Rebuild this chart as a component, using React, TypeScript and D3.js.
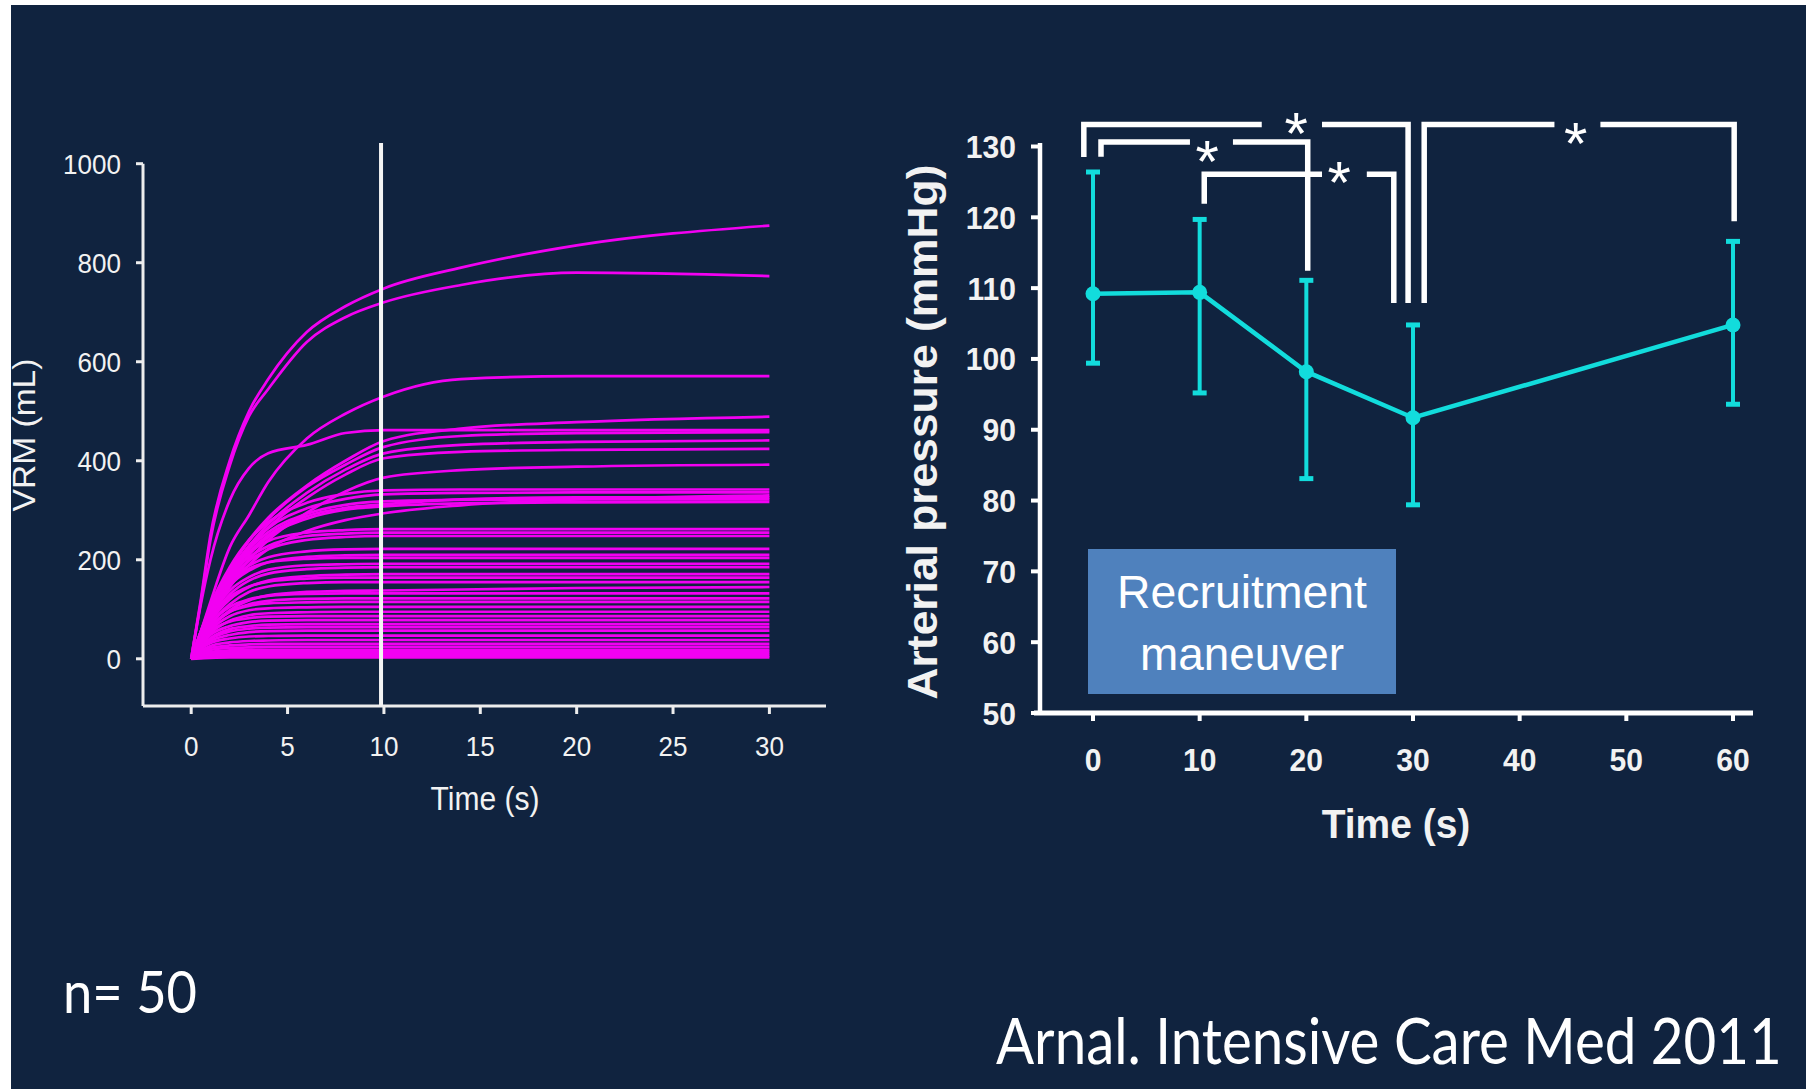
import React, { useLayoutEffect, useRef, useState } from "react";
import * as d3 from "d3";

const W = 1806;
const H = 1089;
const BG = "#10233F";
const ARIAL = "'Liberation Sans', Arial, sans-serif";
const CAL = "Lato, 'Open Sans', sans-serif";

// ---------- Left panel: VRM curves ----------
const vrmTimes = [0, 0.5, 1, 2, 3, 4, 6, 8, 10, 14, 20, 30];
const vrmCurves: number[][] = [
  [0, 120, 250, 400, 500, 565, 660, 712, 748, 790, 835, 875],
  [0, 115, 240, 390, 490, 545, 640, 690, 720, 755, 780, 773],
  [0, 55, 115, 225, 290, 357, 445, 495, 530, 565, 571, 571],
  [0, 110, 200, 320, 385, 415, 432, 456, 462, 462, 462, 462],
  [0, 50, 100, 180, 240, 285, 350, 400, 440, 465, 478, 489],
  [0, 52, 102, 182, 238, 282, 347, 392, 428, 450, 456, 458],
  [0, 48, 95, 172, 228, 272, 335, 382, 415, 432, 438, 441],
  [0, 46, 92, 168, 222, 265, 325, 372, 405, 418, 422, 424],
  [0, 40, 80, 150, 200, 240, 295, 338, 366, 381, 388, 392],
  [0, 55, 108, 185, 240, 276, 315, 333, 340, 342, 342, 342],
  [0, 50, 100, 175, 228, 264, 304, 323, 332, 335, 336, 336],
  [0, 40, 80, 145, 190, 222, 258, 280, 294, 310, 322, 330],
  [0, 52, 100, 172, 222, 256, 293, 311, 318, 321, 322, 322],
  [0, 45, 90, 160, 210, 246, 283, 301, 308, 314, 316, 317],
  [0, 48, 95, 168, 215, 250, 288, 305, 312, 322, 326, 326],
  [0, 55, 105, 175, 215, 238, 255, 260, 262, 262, 262, 262],
  [0, 50, 96, 165, 205, 228, 248, 253, 255, 255, 255, 255],
  [0, 48, 92, 158, 198, 221, 240, 246, 248, 248, 248, 248],
  [0, 50, 95, 155, 188, 205, 217, 221, 222, 222, 222, 222],
  [0, 48, 90, 148, 178, 195, 206, 209, 210, 210, 210, 210],
  [0, 55, 100, 155, 182, 195, 202, 204, 204, 204, 204, 204],
  [0, 45, 85, 138, 165, 180, 189, 191, 192, 192, 192, 192],
  [0, 42, 80, 130, 158, 172, 181, 184, 185, 185, 185, 185],
  [0, 40, 75, 120, 145, 158, 167, 170, 171, 171, 171, 171],
  [0, 45, 80, 125, 146, 156, 162, 164, 164, 164, 164, 164],
  [0, 40, 70, 110, 135, 146, 153, 155, 155, 155, 155, 155],
  [0, 35, 62, 98, 118, 128, 135, 137, 138, 140, 143, 145],
  [0, 40, 70, 105, 120, 127, 131, 132, 132, 132, 132, 132],
  [0, 35, 62, 95, 110, 117, 121, 122, 122, 122, 122, 122],
  [0, 38, 65, 95, 107, 112, 114, 115, 115, 115, 115, 115],
  [0, 34, 58, 86, 98, 102, 104, 105, 105, 105, 105, 105],
  [0, 30, 52, 77, 88, 92, 94, 95, 95, 95, 95, 95],
  [0, 32, 55, 75, 82, 85, 86, 86, 86, 86, 86, 86],
  [0, 28, 48, 66, 74, 77, 78, 78, 78, 78, 78, 78],
  [0, 25, 42, 60, 66, 69, 70, 70, 70, 70, 70, 70],
  [0, 24, 40, 55, 61, 63, 64, 64, 64, 64, 64, 64],
  [0, 22, 36, 48, 54, 56, 57, 57, 57, 57, 57, 57],
  [0, 20, 32, 41, 45, 46, 47, 47, 47, 47, 47, 47],
  [0, 16, 26, 33, 36, 37, 38, 38, 38, 38, 38, 38],
  [0, 14, 22, 27, 29, 30, 30, 30, 30, 30, 30, 30],
  [0, 12, 18, 22, 23, 24, 24, 24, 24, 24, 24, 24],
  [0, 9, 14, 17, 18, 18, 18, 18, 18, 18, 18, 18],
  [0, 7, 11, 13, 14, 14, 14, 14, 14, 14, 14, 14],
  [0, 5, 8, 9, 10, 10, 10, 10, 10, 10, 10, 10],
  [0, 3, 5, 6, 6, 6, 6, 6, 6, 6, 6, 6],
  [0, 1, 2, 3, 3, 3, 3, 3, 3, 3, 3, 3],
];
const vrmYTicks = [0, 200, 400, 600, 800, 1000];
const vrmXTicks = [0, 5, 10, 15, 20, 25, 30];
const rmEndTime = 9.85;

// ---------- Right panel: arterial pressure ----------
const apTimes = [0, 10, 20, 30, 60];
const apMean = [109.2, 109.4, 98.2, 91.7, 104.8];
const apUpper = [126.4, 119.7, 111.1, 104.8, 116.6];
const apLower = [99.4, 95.2, 83.1, 79.4, 93.6];
const apYTicks = [50, 60, 70, 80, 90, 100, 110, 120, 130];
const apXTicks = [0, 10, 20, 30, 40, 50, 60];
const brackets = [
  { x1: -0.86, x2: 29.54, y: 133.1, y1End: 128.5, y2End: 107.9, gapA: 15.82, gapB: 21.47, starX: 19.05, starY: 133.6 },
  { x1: 0.75, x2: 20.13, y: 130.65, y1End: 128.55, y2End: 112.44, gapA: 9.09, gapB: 13.12, starX: 10.71, starY: 129.6 },
  { x1: 10.43, x2: 28.2, y: 126.09, y1End: 121.9, y2End: 107.9, gapA: 21.47, gapB: 25.67, starX: 23.08, starY: 126.65 },
  { x1: 31.05, x2: 60.11, y: 133.09, y1End: 107.9, y2End: 119.45, gapA: 43.26, gapB: 47.57, starX: 45.26, starY: 132.19 },
];

type TxtProps = {
  x: number; y: number; size: number; weight?: number; anchor?: string;
  sx?: number; family?: string; fill?: string; children: React.ReactNode;
};
const Txt = ({ x, y, size, weight = 400, anchor = "start", sx = 1, family = ARIAL, fill = "#F2F2F2", children }: TxtProps) => (
  <text
    transform={`translate(${x},${y}) scale(${sx},1)`}
    fontSize={size}
    fontWeight={weight}
    textAnchor={anchor}
    fontFamily={family}
    fill={fill}
  >
    {children}
  </text>
);

// Text squeezed/stretched to a measured width along its own axis (via scale)
type FitProps = {
  x: number; y: number; size: number; width: number; weight?: number; anchor?: string;
  rotate?: number; family?: string; fill?: string; children: string;
};
const FitText = ({ x, y, size, width, weight = 400, anchor = "start", rotate = 0, family = ARIAL, fill = "#F2F2F2", children }: FitProps) => {
  const ref = useRef<SVGTextElement>(null);
  const [k, setK] = useState(1);
  useLayoutEffect(() => {
    if (ref.current) {
      const natural = ref.current.getComputedTextLength();
      if (natural > 0) setK(width / natural);
    }
  }, [width, children, size, family, weight]);
  return (
    <text
      ref={ref}
      transform={`translate(${x},${y}) rotate(${rotate}) scale(${k},1)`}
      fontSize={size}
      fontWeight={weight}
      textAnchor={anchor}
      fontFamily={family}
      fill={fill}
    >
      {children}
    </text>
  );
};

export default function App() {
  const xL = d3.scaleLinear().domain([0, 30]).range([191.2, 769.4]);
  const yL = d3.scaleLinear().domain([0, 1000]).range([658.8, 163.7]);
  const xR = d3.scaleLinear().domain([0, 60]).range([1093, 1733]);
  const yR = d3.scaleLinear().domain([50, 130]).range([713, 146.5]);

  const vrmLine = d3
    .line<[number, number]>()
    .x((d) => xL(d[0]))
    .y((d) => yL(d[1]))
    .curve(d3.curveMonotoneX);

  const apLine = d3
    .line<number>()
    .x((_, i) => xR(apTimes[i]))
    .y((d) => yR(d));

  const leftAxisY = 706;
  const leftAxisX = 143;
  const rightAxisY = 713;
  const rightAxisX = 1040;
  const axisCol = "#EDEDED";
  const cyan = "#12DCDC";

  return (
    <svg
      width={W}
      height={H}
      viewBox={`0 0 ${W} ${H}`}
      style={{ position: "absolute", left: 0, top: 0, display: "block" }}
    >
      <rect x={0} y={0} width={W} height={H} fill="#FFFFFF" />
      <rect x={11} y={5} width={W - 11} height={H - 5} fill={BG} />

      {/* ---------- LEFT PANEL ---------- */}
      <g>
        {vrmCurves.map((c, k) => (
          <path
            key={k}
            d={vrmLine(vrmTimes.map((t, i) => [t, c[i]] as [number, number])) || ""}
            fill="none"
            stroke="#F200F2"
            strokeWidth={2.7}
          />
        ))}
        {/* axes */}
        <line x1={leftAxisX} x2={leftAxisX} y1={yL(1000)} y2={leftAxisY} stroke={axisCol} strokeWidth={3} />
        <line x1={leftAxisX} x2={826} y1={leftAxisY} y2={leftAxisY} stroke={axisCol} strokeWidth={3} />
        {vrmYTicks.map((v) => (
          <g key={v}>
            <line x1={leftAxisX - 7} x2={leftAxisX} y1={yL(v)} y2={yL(v)} stroke={axisCol} strokeWidth={3} />
            <Txt x={121} y={yL(v) + 10} size={28} anchor="end" sx={0.93}>{v}</Txt>
          </g>
        ))}
        {vrmXTicks.map((v) => (
          <g key={v}>
            <line x1={xL(v)} x2={xL(v)} y1={leftAxisY} y2={leftAxisY + 8} stroke={axisCol} strokeWidth={3} />
            <Txt x={xL(v)} y={756} size={28} anchor="middle" sx={0.93}>{v}</Txt>
          </g>
        ))}
        {/* maneuver end line */}
        <line x1={xL(rmEndTime)} x2={xL(rmEndTime)} y1={143} y2={leftAxisY} stroke="#F4F4F4" strokeWidth={4} />
        <Txt x={485} y={810} size={33} anchor="middle" sx={0.91}>Time (s)</Txt>
        <FitText x={35} y={435} size={32} width={153} anchor="middle" rotate={-90}>
          VRM (mL)
        </FitText>
      </g>

      {/* ---------- RIGHT PANEL ---------- */}
      <g>
        {/* recruitment box */}
        <rect x={1088} y={549} width={308} height={145} fill="#4F81BD" />
        <FitText x={1242} y={608} size={46} width={250} anchor="middle" fill="#FFFFFF">Recruitment</FitText>
        <FitText x={1242} y={670} size={46} width={204} anchor="middle" fill="#FFFFFF">maneuver</FitText>

        {/* axes */}
        <line x1={rightAxisX} x2={rightAxisX} y1={143} y2={rightAxisY} stroke="#FFFFFF" strokeWidth={4.5} />
        <line x1={1034} x2={1753} y1={rightAxisY} y2={rightAxisY} stroke="#FFFFFF" strokeWidth={5} />
        {apYTicks.map((v) => (
          <g key={v}>
            <line x1={rightAxisX - 9} x2={rightAxisX} y1={yR(v)} y2={yR(v)} stroke="#FFFFFF" strokeWidth={4} />
            <Txt x={1016} y={yR(v) + 11.5} size={32} weight={700} anchor="end" sx={0.94}>{v}</Txt>
          </g>
        ))}
        {apXTicks.map((v) => (
          <g key={v}>
            <line x1={xR(v)} x2={xR(v)} y1={rightAxisY} y2={rightAxisY + 8} stroke="#FFFFFF" strokeWidth={4} />
            <Txt x={xR(v)} y={771} size={32} weight={700} anchor="middle" sx={0.94}>{v}</Txt>
          </g>
        ))}
        <Txt x={1396} y={838} size={41} weight={700} anchor="middle" sx={0.95}>Time (s)</Txt>
        <FitText x={937} y={432} size={42} width={535} weight={700} anchor="middle" rotate={-90}>
          Arterial pressure (mmHg)
        </FitText>

        {/* significance brackets */}
        {brackets.map((b, i) => (
          <g key={i}>
            <path
              d={`M${xR(b.x1)},${yR(b.y1End)} L${xR(b.x1)},${yR(b.y)} L${xR(b.gapA)},${yR(b.y)} M${xR(b.gapB)},${yR(b.y)} L${xR(b.x2)},${yR(b.y)} L${xR(b.x2)},${yR(b.y2End)}`}
              fill="none"
              stroke="#FFFFFF"
              strokeWidth={5.5}
            />
            <text
              x={xR(b.starX)}
              y={yR(b.starY) + 33}
              fontSize={60}
              fontWeight={400}
              fontFamily={ARIAL}
              fill="#FFFFFF"
              textAnchor="middle"
            >
              *
            </text>
          </g>
        ))}

        {/* data */}
        {apTimes.map((t, i) => (
          <g key={t}>
            <line x1={xR(t)} x2={xR(t)} y1={yR(apUpper[i])} y2={yR(apLower[i])} stroke={cyan} strokeWidth={4} />
            <line x1={xR(t) - 7} x2={xR(t) + 7} y1={yR(apUpper[i])} y2={yR(apUpper[i])} stroke={cyan} strokeWidth={5} />
            <line x1={xR(t) - 7} x2={xR(t) + 7} y1={yR(apLower[i])} y2={yR(apLower[i])} stroke={cyan} strokeWidth={5} />
          </g>
        ))}
        <path d={apLine(apMean) || ""} fill="none" stroke={cyan} strokeWidth={4.5} />
        {apTimes.map((t, i) => (
          <circle key={t} cx={xR(t)} cy={yR(apMean[i])} r={7.5} fill={cyan} />
        ))}
      </g>

      {/* ---------- footer ---------- */}
      <FitText x={63} y={1013} size={58} width={134} family={CAL} fill="#FFFFFF">n= 50</FitText>
      <FitText x={996} y={1064} size={63} width={786} family={CAL} fill="#FFFFFF">Arnal. Intensive Care Med 2011</FitText>

      {/* page border strips */}
      <rect x={0} y={0} width={11} height={H} fill="#FFFFFF" />
      <rect x={0} y={0} width={W} height={5} fill="#FFFFFF" />
    </svg>
  );
}
